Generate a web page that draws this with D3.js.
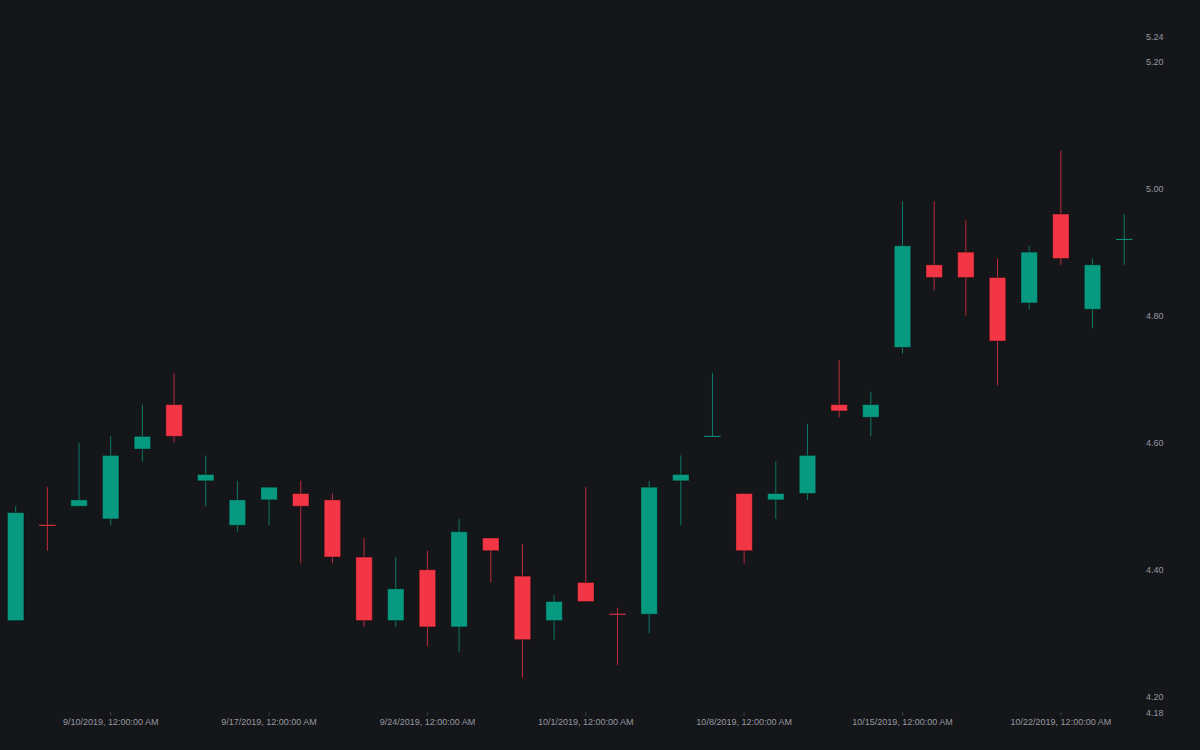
<!DOCTYPE html>
<html>
<head>
<meta charset="utf-8">
<script src="https://cdn.jsdelivr.net/npm/d3@7"></script>
<style>
  html, body { margin: 0; padding: 0; background: #151619; }
  svg { display: block; }
</style>
</head>
<body>
<svg id="chart" width="1200" height="750"></svg>
<script>
// ---- data ----
const dates = [
  "2019-09-05","2019-09-06","2019-09-09","2019-09-10","2019-09-11","2019-09-12","2019-09-13",
  "2019-09-16","2019-09-17","2019-09-18","2019-09-19","2019-09-20",
  "2019-09-23","2019-09-24","2019-09-25","2019-09-26","2019-09-27",
  "2019-09-30","2019-10-01","2019-10-02","2019-10-03","2019-10-04",
  "2019-10-07","2019-10-08","2019-10-09","2019-10-10","2019-10-11",
  "2019-10-14","2019-10-15","2019-10-16","2019-10-17","2019-10-18",
  "2019-10-21","2019-10-22","2019-10-23","2019-10-24"
];
const open  = [4.32,4.470,4.50,4.48,4.59,4.66,4.54, 4.47,4.51,4.52,4.51,4.42, 4.32,4.40,4.31,4.45,4.39, 4.32,4.38,4.330,4.33,4.54, 4.610,4.52,4.51,4.52,4.66, 4.64,4.75,4.88,4.90,4.86, 4.82,4.96,4.81,4.920];
const high  = [4.50,4.53,4.60,4.61,4.66,4.71,4.58, 4.54,4.53,4.54,4.52,4.45, 4.42,4.43,4.48,4.45,4.44, 4.36,4.53,4.34,4.54,4.58, 4.71,4.52,4.57,4.63,4.73, 4.68,4.98,4.98,4.95,4.89, 4.91,5.06,4.89,4.96];
const low   = [4.32,4.43,4.50,4.47,4.57,4.60,4.50, 4.46,4.47,4.41,4.41,4.31, 4.31,4.28,4.27,4.38,4.23, 4.29,4.35,4.25,4.30,4.47, 4.61,4.41,4.48,4.51,4.64, 4.61,4.74,4.84,4.80,4.69, 4.81,4.88,4.78,4.88];
const close = [4.49,4.469,4.51,4.58,4.61,4.61,4.55, 4.51,4.53,4.50,4.42,4.32, 4.37,4.31,4.46,4.43,4.29, 4.35,4.35,4.329,4.53,4.55, 4.611,4.43,4.52,4.58,4.65, 4.66,4.91,4.86,4.86,4.76, 4.90,4.89,4.88,4.921];
const yDomain = [4.1753, 5.2394];
const yTicks = [4.20, 4.40, 4.60, 4.80, 5.00, 5.20];
const xTickDates = ["2019-09-10","2019-09-17","2019-09-24","2019-10-01","2019-10-08","2019-10-15","2019-10-22"];

// ---- chart ----
const W = 1200, H = 750;
const UP = "#089981", DOWN = "#f23645";
const svg = d3.select("#chart");
svg.append("rect").attr("width", W).attr("height", H).attr("fill", "#151619");

const data = dates.map((d, i) => ({ date: d, o: open[i], h: high[i], l: low[i], c: close[i] }));

const x = d3.scaleBand().domain(dates).range([7.45, 1132.45]).paddingInner(0.48).paddingOuter(0);
const y = d3.scaleLinear().domain(yDomain).range([712.5, 36.5]);

function parse(s) { const [yy, mm, dd] = s.split("-").map(Number); return new Date(yy, mm - 1, dd); }
const fmtDate = s => parse(s).toLocaleString("en-US");

// x axis
const xAxis = d3.axisBottom(x).tickValues(xTickDates).tickFormat(fmtDate).tickSize(4).tickPadding(3);
const gx = svg.append("g").attr("transform", "translate(0,712)").call(xAxis);
gx.select(".domain").remove();
gx.selectAll(".tick line").attr("stroke", "#3a3d44");
gx.selectAll(".tick text").attr("fill", "#9598a1").attr("font-size", 9)
  .attr("font-family", "'Liberation Sans', Arial, sans-serif");

// y axis
const yAxis = d3.axisRight(y).tickValues([yDomain[0], ...yTicks, yDomain[1]]).tickFormat(d3.format(".2f")).tickSize(0).tickPadding(3);
const gy = svg.append("g").attr("transform", "translate(1143,0)").call(yAxis);
gy.select(".domain").remove();
gy.selectAll(".tick text").attr("fill", "#9598a1").attr("font-size", 9)
  .attr("font-family", "'Liberation Sans', Arial, sans-serif");

// candles
const g = svg.append("g");
const candle = g.selectAll("g.candle").data(data).join("g").attr("class", "candle");
const cx = d => x(d.date) + x.bandwidth() / 2;
const col = d => d.c >= d.o ? UP : DOWN;

candle.append("line")
  .attr("x1", cx).attr("x2", cx)
  .attr("y1", d => y(d.h)).attr("y2", d => y(d.l))
  .attr("stroke", col).attr("stroke-width", 1).attr("stroke-opacity", 0.75);

candle.append("rect")
  .attr("x", d => x(d.date))
  .attr("width", x.bandwidth())
  .attr("y", d => Math.abs(y(d.o) - y(d.c)) < 2 ? y(d.o) - 0.5 : Math.min(y(d.o), y(d.c)))
  .attr("height", d => Math.max(1, Math.abs(y(d.o) - y(d.c))))
  .attr("fill", col)
  .attr("stroke", d => Math.abs(y(d.o) - y(d.c)) < 2 ? "none" : "rgba(0,0,0,0.35)")
  .attr("stroke-width", 1);
</script>
</body>
</html>
